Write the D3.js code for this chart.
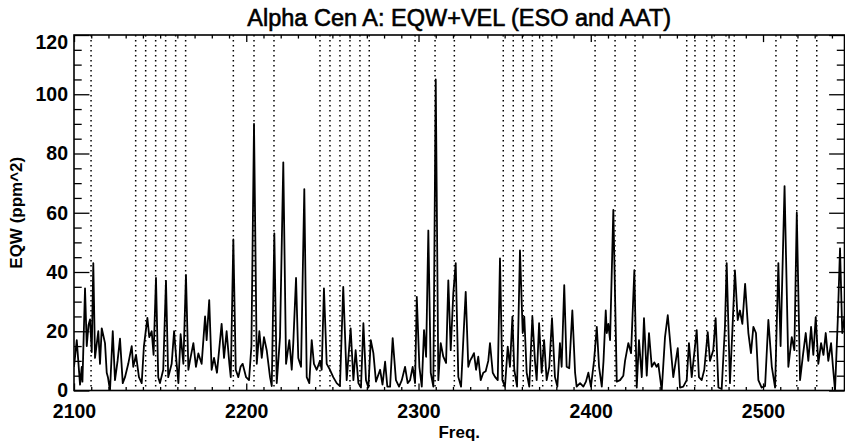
<!DOCTYPE html>
<html>
<head>
<meta charset="utf-8">
<script src="https://cdn.jsdelivr.net/npm/d3@7"></script>
<style>
  body { margin: 0; background: #fff; }
  svg { display: block; }
  text { font-family: "Liberation Sans", Arial, Helvetica, sans-serif; fill: #000; }
</style>
</head>
<body>
<div id="chart"></div>
<script>
const freq = [
  2100.0, 2101.6, 2103.5, 2104.5, 2104.9, 2106.4, 2107.4, 2108.4, 2109.3, 2110.3,
  2111.2, 2112.2, 2114.1, 2115.1, 2116.1, 2118.0, 2119.0, 2119.7, 2120.9, 2122.5,
  2123.8, 2125.3, 2126.7, 2128.3, 2129.6, 2131.5, 2133.5, 2134.4, 2136.0, 2137.7,
  2139.3, 2140.6, 2142.6, 2143.7, 2145.1, 2146.2, 2147.6, 2148.9, 2149.9, 2151.8,
  2153.4, 2154.7, 2156.7, 2158.1, 2159.6, 2160.6, 2161.9, 2163.5, 2165.0, 2166.4,
  2167.3, 2169.3, 2170.8, 2172.2, 2174.1, 2176.1, 2177.0, 2178.5, 2179.9, 2181.3,
  2183.0, 2185.7, 2187.1, 2188.6, 2190.2, 2191.0, 2192.5, 2193.9, 2195.4, 2196.7,
  2197.9, 2199.9, 2201.6, 2203.0, 2204.5, 2206.1, 2207.6, 2209.0, 2210.3, 2211.9,
  2213.8, 2214.8, 2216.3, 2217.7, 2219.6, 2221.5, 2223.1, 2225.0, 2226.4, 2227.3,
  2228.9, 2230.2, 2231.8, 2233.7, 2235.1, 2236.6, 2238.0, 2239.3, 2240.9, 2242.8,
  2243.8, 2245.1, 2246.7, 2248.6, 2250.5, 2252.5, 2254.4, 2256.3, 2258.3, 2260.6,
  2262.2, 2263.5, 2265.1, 2266.6, 2268.0, 2269.5, 2270.9, 2272.3, 2273.8, 2275.3,
  2277.7, 2279.1, 2280.6, 2281.9, 2283.5, 2285.0, 2286.9, 2288.7, 2290.3, 2292.2,
  2293.7, 2295.1, 2296.6, 2298.0, 2299.0, 2300.5, 2301.9, 2303.2, 2304.4, 2305.7,
  2307.1, 2308.6, 2310.0, 2311.5, 2312.9, 2314.4, 2316.0, 2317.3, 2318.7, 2320.2,
  2321.6, 2323.1, 2324.7, 2326.0, 2327.4, 2328.9, 2329.9, 2331.2, 2332.2, 2333.4,
  2334.7, 2336.1, 2337.6, 2339.0, 2340.5, 2341.5, 2343.1, 2344.4, 2346.0, 2347.3,
  2348.7, 2350.2, 2351.8, 2353.1, 2354.5, 2355.6, 2357.2, 2358.9, 2360.5, 2361.4,
  2362.8, 2364.3, 2366.1, 2367.6, 2368.6, 2370.0, 2371.5, 2372.9, 2374.4, 2375.9,
  2377.5, 2379.2, 2380.6, 2382.1, 2383.1, 2384.6, 2386.0, 2387.5, 2389.3, 2390.9,
  2391.8, 2393.8, 2395.7, 2397.2, 2398.6, 2400.1, 2401.9, 2403.5, 2404.8, 2406.4,
  2407.4, 2408.7, 2409.3, 2410.2, 2411.2, 2413.1, 2415.1, 2417.0, 2418.9, 2419.9,
  2421.8, 2423.4, 2425.3, 2426.7, 2428.0, 2429.6, 2430.9, 2432.5, 2433.8, 2435.4,
  2436.9, 2438.2, 2439.2, 2441.2, 2443.1, 2444.7, 2446.0, 2447.9, 2450.5, 2451.8,
  2453.7, 2455.7, 2457.0, 2458.6, 2460.1, 2461.5, 2462.8, 2464.4, 2465.9, 2467.9,
  2469.2, 2471.1, 2472.5, 2474.1, 2476.0, 2477.9, 2478.9, 2480.8, 2482.2, 2483.7,
  2485.3, 2486.6, 2488.0, 2489.6, 2491.5, 2493.0, 2494.4, 2495.9, 2497.3, 2499.2,
  2501.2, 2503.1, 2505.1, 2507.0, 2508.9, 2510.2, 2512.5, 2514.7, 2516.7, 2518.2,
  2519.6, 2521.5, 2523.2, 2524.8, 2526.3, 2527.9, 2529.2, 2530.6, 2532.1, 2533.7,
  2535.1, 2536.4, 2537.9, 2539.5, 2540.6, 2541.8, 2543.4, 2544.7, 2546.0, 2547.3
];

const eqw = [
  8, 17, 2, 8, 3, 34.5, 15, 22, 24, 13,
  43, 11, 20, 9, 21, 16, 6, 4.5, 0, 20,
  3.5, 10, 17.5, 2.5, 4.5, 9, 15, 8, 12, 4.5,
  2.5, 15, 24.5, 18, 20, 12, 38, 4.5, 2.5, 7,
  37, 4.5, 9, 20, 9, 2.5, 19, 9, 39, 7,
  10, 16, 8, 12.5, 9, 25, 17, 30.5, 7, 11,
  6, 22.5, 11, 20, 9, 4.5, 51, 7, 4.5, 8,
  9, 4.5, 3.5, 15, 90, 9, 20, 11, 18, 13.5,
  4.5, 1.5, 53, 2.5, 18, 77, 9, 17, 7, 16,
  38, 11, 8, 68, 4.5, 2.5, 17, 9, 7, 10,
  7, 34.5, 9, 7, 4.5, 2.5, 1.5, 35, 3.5, 21,
  3.5, 13.6, 2.5, 1, 22.7, 3.5, 1, 17, 12.6, 3,
  7, 2, 9.7, 1.3, 1.3, 17.7, 3.5, 1.3, 3.5, 8,
  2.5, 3.5, 8, 2.5, 31.6, 8, 1.3, 20.4, 11.4, 54,
  6, 1.3, 105, 3.5, 16, 11.4, 9.3, 37.2, 13.6, 32.8,
  43, 4.6, 1.3, 17, 33.3, 8, 10, 11.4, 12.6, 7,
  11.4, 3.5, 6, 6.5, 10, 16, 6, 4.6, 3.5, 44.6,
  3.5, 1.3, 14.8, 8, 24.9, 7, 1.3, 47.3, 19.4, 24.9,
  6, 1.3, 24.9, 10, 3.5, 22.7, 6, 17, 3.5, 8,
  24.4, 4.6, 1.3, 16, 8, 35.6, 8, 7.5, 27, 6,
  1.3, 2.5, 1.3, 3, 6, 1.3, 10, 21.5, 8, 1.3,
  10, 27, 19.4, 22.5, 17, 61, 3, 3.5, 5, 10,
  16, 12.6, 40.6, 1, 17, 4.5, 24.4, 5, 19.4, 8,
  9.5, 8, 9, 0, 18, 25.4, 17, 4.5, 14.3, 1,
  1.3, 3.5, 16, 4.5, 12.6, 20.4, 4.5, 3.5, 7, 19.7,
  10, 13.6, 24.4, 1, 0.5, 21.5, 43, 2.5, 20, 40.5,
  23.8, 27, 22.5, 36, 19.4, 12.6, 21.5, 19.4, 3.5, 1,
  1.5, 23.8, 8, 1, 43, 15, 69, 8, 18, 13.6,
  60, 3.5, 12, 19.4, 10, 21.5, 12, 24.8, 9, 16,
  12, 19.4, 10, 16, 8, 0, 23.8, 48, 19.4, 25
];

// dotted reference lines (mode frequencies)
const modeFreqs = [
  2109.9, 2135.8, 2141.6, 2147.4, 2153.2, 2159.0, 2164.8, 2192.5, 2204.5, 2216.1,
  2242.8, 2248.6, 2254.4, 2260.2, 2266.0, 2271.4, 2298.0, 2309.6, 2320.8, 2349.2,
  2355.0, 2360.8, 2366.1, 2372.1, 2377.3, 2402.5, 2414.1, 2425.7, 2455.7, 2460.5,
  2467.3, 2471.7, 2478.5, 2483.3, 2507.5, 2519.6, 2531.2
];

const xDomain = [2100, 2547.3];
const yDomain = [0, 120];
const xTicks = [2100, 2200, 2300, 2400, 2500];
const yTicks = [0, 20, 40, 60, 80, 100, 120];

const title = 'Alpha Cen A: EQW+VEL (ESO and AAT)';
const xTitle = 'Freq.';
const yTitle = 'EQW (ppm^2)';

const width = 845, height = 444;
const margin = { top: 35, right: 0.5, bottom: 53.5, left: 74 };
const innerW = width - margin.left - margin.right;
const innerH = height - margin.top - margin.bottom;

const svg = d3.select('#chart').append('svg')
  .attr('width', width)
  .attr('height', height);

const g = svg.append('g').attr('transform', `translate(${margin.left},${margin.top})`);

const x = d3.scaleLinear().domain(xDomain).range([0, innerW]);
const y = d3.scaleLinear().domain(yDomain).range([innerH, 0]);

g.append('clipPath').attr('id', 'plot-clip')
  .append('rect').attr('width', innerW).attr('height', innerH);

// dotted mode lines
g.append('g').attr('clip-path', 'url(#plot-clip)')
  .selectAll('line')
  .data(modeFreqs)
  .join('line')
  .attr('x1', d => x(d)).attr('x2', d => x(d))
  .attr('y1', 0).attr('y2', innerH)
  .attr('stroke', '#000')
  .attr('stroke-width', 1.5)
  .attr('stroke-dasharray', '1.5,3.5');

// spectrum
const series = freq.map((f, i) => ({ f, v: eqw[i] }));
const line = d3.line().x(d => x(d.f)).y(d => y(d.v));

g.append('path')
  .datum(series)
  .attr('clip-path', 'url(#plot-clip)')
  .attr('d', line)
  .attr('fill', 'none')
  .attr('stroke', '#000')
  .attr('stroke-width', 1.8)
  .attr('stroke-linejoin', 'round');

// ticks, all pointing inward
const xMinor = d3.range(2110, xDomain[1], 10).filter(v => v % 100 !== 0);
const yMinor = d3.range(5, 120, 5).filter(v => v % 20 !== 0);
const xTickLen = innerH * 0.02, yTickLen = innerW * 0.02;

function styleAxis(sel) {
  sel.select('.domain').remove();
  sel.selectAll('line').attr('stroke', '#000').attr('stroke-width', 1.3);
}

g.append('g').attr('transform', `translate(0,${innerH})`)
  .call(d3.axisBottom(x).tickValues(xTicks).tickSize(-xTickLen).tickPadding(14).tickFormat(d3.format('d')))
  .call(styleAxis)
  .call(s => s.selectAll('text').attr('font-size', 19.5).attr('font-weight', 'bold').attr('fill', '#000'));
g.append('g').attr('transform', `translate(0,${innerH})`)
  .call(d3.axisBottom(x).tickValues(xMinor).tickSize(-xTickLen / 2).tickFormat(''))
  .call(styleAxis);
g.append('g')
  .call(d3.axisTop(x).tickValues(xTicks).tickSize(-xTickLen).tickFormat(''))
  .call(styleAxis);
g.append('g')
  .call(d3.axisTop(x).tickValues(xMinor).tickSize(-xTickLen / 2).tickFormat(''))
  .call(styleAxis);

g.append('g')
  .call(d3.axisLeft(y).tickValues(yTicks).tickSize(-yTickLen).tickPadding(6).tickFormat(d3.format('d')))
  .call(styleAxis)
  .call(s => s.selectAll('text')
    .attr('font-size', 19.5).attr('font-weight', 'bold').attr('fill', '#000')
    .attr('y', d => d === yDomain[1] ? 7 : 0));
g.append('g')
  .call(d3.axisLeft(y).tickValues(yMinor).tickSize(-yTickLen / 2).tickFormat(''))
  .call(styleAxis);
g.append('g').attr('transform', `translate(${innerW},0)`)
  .call(d3.axisRight(y).tickValues(yTicks).tickSize(-yTickLen).tickFormat(''))
  .call(styleAxis);
g.append('g').attr('transform', `translate(${innerW},0)`)
  .call(d3.axisRight(y).tickValues(yMinor).tickSize(-yTickLen / 2).tickFormat(''))
  .call(styleAxis);

// frame
g.append('rect')
  .attr('width', innerW).attr('height', innerH)
  .attr('fill', 'none').attr('stroke', '#000').attr('stroke-width', 1.6);

// titles
svg.append('text')
  .attr('x', margin.left + innerW / 2).attr('y', 26)
  .attr('text-anchor', 'middle')
  .attr('font-size', 23.5)
  .attr('stroke', '#000')
  .attr('stroke-width', 0.6)
  .text(title);

svg.append('text')
  .attr('x', margin.left + innerW / 2).attr('y', 438)
  .attr('text-anchor', 'middle')
  .attr('font-size', 17)
  .attr('font-weight', 'bold')
  .text(xTitle);

svg.append('text')
  .attr('transform', `translate(22,${margin.top + innerH / 2}) rotate(-90)`)
  .attr('text-anchor', 'middle')
  .attr('font-size', 17)
  .attr('font-weight', 'bold')
  .text(yTitle);
</script>
</body>
</html>
